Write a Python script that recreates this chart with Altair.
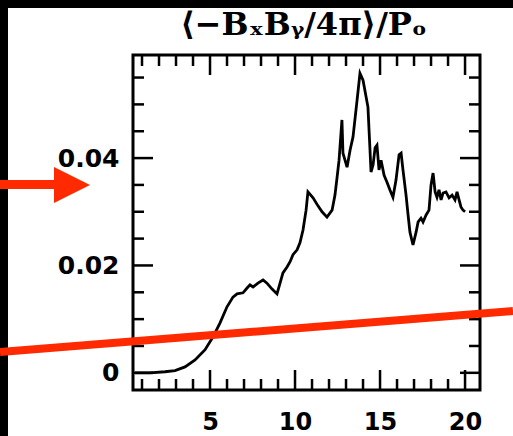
import altair as alt
import pandas as pd

# Time (orbits) and volume-averaged Maxwell stress normalised by initial pressure
t = [0.59, 1.47, 2.35, 2.94, 3.53, 4.12, 4.71, 5.18, 5.59, 6.00, 6.35, 6.59, 6.94,
     7.18, 7.35, 7.53, 7.82, 8.12, 8.35, 8.65, 8.94, 9.29, 9.53, 9.71, 9.88, 10.12,
     10.29, 10.47, 10.65, 10.76, 11.06, 11.35, 11.59, 11.88, 12.18, 12.35, 12.47,
     12.59, 12.76, 12.82, 12.94, 13.06, 13.24, 13.41, 13.65, 13.82, 14.00, 14.29,
     14.41, 14.47, 14.59, 14.71, 14.82, 14.94, 15.06, 15.24, 15.41, 15.59, 15.76,
     15.94, 16.12, 16.24, 16.35, 16.53, 16.65, 16.76, 16.94, 17.12, 17.24, 17.41,
     17.53, 17.71, 17.88, 18.00, 18.12, 18.24, 18.35, 18.47, 18.59, 18.71, 18.88,
     19.06, 19.24, 19.41, 19.53, 19.65, 19.76, 19.88, 20.00]
stress = [0.0000, 0.0000, 0.0002, 0.0004, 0.0011, 0.0024, 0.0043, 0.0067, 0.0093,
          0.0123, 0.0141, 0.0147, 0.0149, 0.0158, 0.0164, 0.0160, 0.0167, 0.0173,
          0.0167, 0.0156, 0.0147, 0.0186, 0.0197, 0.0207, 0.0220, 0.0229, 0.0242,
          0.0266, 0.0303, 0.0337, 0.0326, 0.0311, 0.0300, 0.0290, 0.0303, 0.0331,
          0.0363, 0.0396, 0.0471, 0.0409, 0.0396, 0.0383, 0.0415, 0.0439, 0.0508,
          0.0558, 0.0545, 0.0495, 0.0415, 0.0374, 0.0387, 0.0419, 0.0424, 0.0378,
          0.0396, 0.0368, 0.0355, 0.0340, 0.0327, 0.0359, 0.0406, 0.0409, 0.0378,
          0.0331, 0.0294, 0.0262, 0.0238, 0.0262, 0.0281, 0.0288, 0.0281, 0.0294,
          0.0303, 0.0350, 0.0372, 0.0337, 0.0327, 0.0341, 0.0322, 0.0335, 0.0337,
          0.0326, 0.0331, 0.0322, 0.0337, 0.0322, 0.0309, 0.0303, 0.0300]

# Axis tick positions
x_labels = [5, 10, 15, 20]
x_minor = [1, 2, 3, 4, 6, 7, 8, 9, 11, 12, 13, 14, 16, 17, 18, 19]
y_labels = [0, 0.02, 0.04]
y_minor = [0.005, 0.01, 0.015, 0.025, 0.03, 0.035, 0.045, 0.05, 0.055]

TITLE = "⟨−BₓBᵧ/4π⟩/Pₒ"

W, H = 347, 335
PAD_L, PAD_T = 133, 55
RED = "#ff2a00"
MAJOR, MINOR = 20, 11

xs = alt.Scale(domain=[0.47, 20.88], nice=False, zero=False)
ys = alt.Scale(domain=[-0.0032, 0.0592], nice=False, zero=False)

df = pd.DataFrame({"t": t, "stress": stress})

x_axis = alt.Axis(values=x_labels, title=None, grid=False, ticks=False, tickSize=0,
                  domain=False, labelFont="DejaVu Sans", labelFontWeight="bold",
                  labelFontSize=24, labelColor="black", labelPadding=20)
y_axis = alt.Axis(values=y_labels, title=None, grid=False, ticks=False, tickSize=0,
                  domain=False, labelFont="DejaVu Sans", labelFontWeight="bold",
                  labelFontSize=25, labelColor="black", labelPadding=14,
                  labelExpr="datum.value == 0 ? '0' : format(datum.value, '.2f')")

one = alt.Data(values=[{}])

# black border strips along the left and top edges
strip_left = alt.Chart(one).mark_rect(color="black").encode(
    x=alt.value(-PAD_L), x2=alt.value(-PAD_L + 8),
    y=alt.value(-PAD_T), y2=alt.value(H + 50))
strip_top = alt.Chart(one).mark_rect(color="black").encode(
    x=alt.value(-PAD_L), x2=alt.value(W + 40),
    y=alt.value(-PAD_T), y2=alt.value(-PAD_T + 8))

# panel heading drawn as a text mark above the frame
heading = alt.Chart(one).mark_text(
    text=TITLE, font="DejaVu Serif", fontWeight="bold", fontSize=32,
    color="black", align="center", baseline="alphabetic"
).encode(x=alt.value(W / 2 - 3), y=alt.value(35 - PAD_T))

curve = alt.Chart(df).mark_line(color="black", strokeWidth=2.8).encode(
    x=alt.X("t:Q", scale=xs, axis=x_axis),
    y=alt.Y("stress:Q", scale=ys, axis=y_axis),
)


def xticks(vals, length):
    d = pd.DataFrame({"v": vals})
    bottom = alt.Chart(d).mark_rule(color="black", strokeWidth=2.5).encode(
        x=alt.X("v:Q", scale=xs), y=alt.value(H), y2=alt.value(H - length))
    top = alt.Chart(d).mark_rule(color="black", strokeWidth=2.5).encode(
        x=alt.X("v:Q", scale=xs), y=alt.value(0), y2=alt.value(length))
    return [bottom, top]


def yticks(vals, length):
    d = pd.DataFrame({"v": vals})
    left = alt.Chart(d).mark_rule(color="black", strokeWidth=2.5).encode(
        y=alt.Y("v:Q", scale=ys), x=alt.value(0), x2=alt.value(length))
    right = alt.Chart(d).mark_rule(color="black", strokeWidth=2.5).encode(
        y=alt.Y("v:Q", scale=ys), x=alt.value(W), x2=alt.value(W - length))
    return [left, right]


ticks = (xticks(x_labels, MAJOR) + xticks(x_minor, MINOR)
         + yticks(y_labels, MAJOR) + yticks(y_minor, MINOR))

# red overlay: slanted line and arrow pointing at the 0.04 label
red_line = alt.Chart(one).mark_rule(color=RED, strokeWidth=8, strokeCap="butt").encode(
    x=alt.value(-PAD_L), x2=alt.value(W + 33),
    y=alt.value(352 - PAD_T), y2=alt.value(311 - PAD_T))
arrow_shaft = alt.Chart(one).mark_rule(color=RED, strokeWidth=9, strokeCap="butt").encode(
    x=alt.value(-PAD_L), x2=alt.value(57 - PAD_L), y=alt.value(184.5 - PAD_T))
arrow_head = alt.Chart(one).mark_point(
    color=RED, filled=True, opacity=1, shape="M-1,-1L1,0L-1,1Z", strokeWidth=0
).encode(x=alt.value(72 - PAD_L), y=alt.value(185 - PAD_T), size=alt.value(36 * 36))

chart = alt.layer(
    strip_left, strip_top, heading, curve, *ticks, red_line, arrow_shaft, arrow_head
).properties(
    width=W, height=H,
    background="white",
    padding={"left": PAD_L, "top": PAD_T, "right": 513 - PAD_L - W, "bottom": 436 - PAD_T - H},
    autosize=alt.AutoSizeParams(type="none"),
).configure_view(stroke="black", strokeWidth=3)

chart.save("out.html", embed_options={"renderer": "svg", "actions": False})
